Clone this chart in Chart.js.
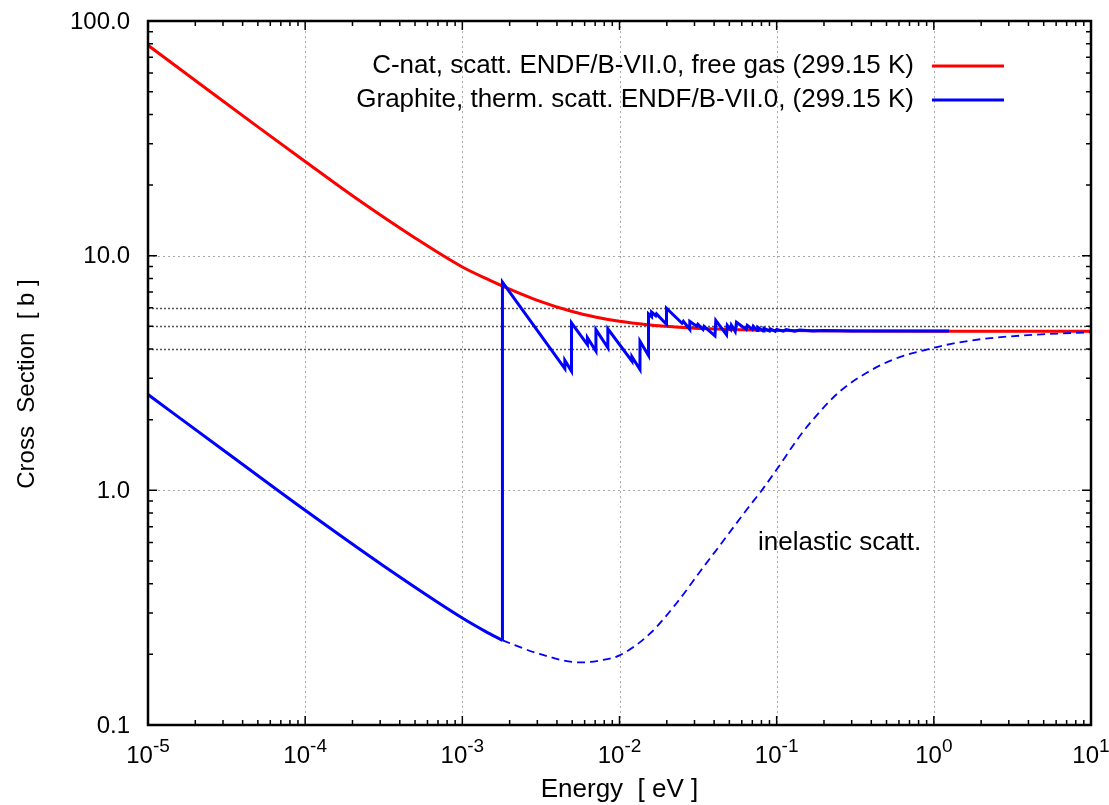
<!DOCTYPE html>
<html>
<head>
<meta charset="utf-8">
<script src="https://cdn.jsdelivr.net/npm/chart.js@4/dist/chart.umd.min.js"></script>
<style>
  html, body { margin: 0; padding: 0; background: #fff; }
  #wrap { width: 1109px; height: 805px; }
</style>
</head>
<body>
<div id="wrap"><canvas id="myChart" width="1109" height="805"></canvas></div>
<script>
// C-nat free gas elastic scattering
const freeGasE  = [1e-5, 2e-5, 5e-5, 1e-4, 2e-4, 5e-4, 1e-3, 1.5e-3, 2e-3, 3e-3, 5e-3, 7e-3, 1e-2, 1.5e-2, 2e-2, 3e-2, 5e-2, 1e-1, 3e-1, 1, 10];
const freeGasXS = [78.8, 55.8, 35.4, 25.2, 18.0, 11.9, 8.95, 7.85, 7.2, 6.45, 5.78, 5.48, 5.25, 5.08, 5.0, 4.91, 4.85, 4.80, 4.77, 4.765, 4.765];

// Graphite total below the first Bragg edge (inelastic only)
const graphiteLowE  = [1e-5, 3.16e-5, 1e-4, 3.16e-4, 1e-3, 1.4e-3, 1.8e-3];
const graphiteLowXS = [2.56, 1.45, 0.822, 0.476, 0.2856, 0.2506, 0.2293];

// Graphite total from the first Bragg edge up
const graphiteE  = [1.8e-3, 1.8e-3, 4.49e-3, 4.49e-3, 4.95e-3, 4.95e-3, 6.25e-3, 6.25e-3, 7.08e-3, 7.08e-3,
  8.43e-3, 8.43e-3, 1.2e-2, 1.2e-2, 1.35e-2, 1.35e-2, 1.53e-2, 1.53e-2,
  1.6e-2, 1.6e-2, 1.7e-2, 1.72e-2, 1.99e-2, 1.99e-2,
  2.5e-2, 2.55e-2, 2.8e-2, 2.8e-2, 3.1e-2, 3.15e-2, 3.4e-2, 3.45e-2, 4.05e-2, 4.1e-2,
  4.8e-2, 4.85e-2, 5.1e-2, 5.15e-2, 5.45e-2, 5.55e-2, 6.4e-2, 6.5e-2, 7.0e-2, 7.1e-2,
  7.5e-2, 7.6e-2, 8.2e-2, 8.3e-2, 9.0e-2, 9.1e-2, 9.8e-2, 0.1, 0.11, 0.115, 0.13, 0.14,
  0.17, 0.2, 0.3, 0.5, 1.25];
const graphiteXS = [0.2293, 7.71, 3.30, 3.58, 3.22, 5.17, 4.18, 4.47, 3.92, 4.84,
  4.05, 4.88, 3.55, 3.71, 3.27, 4.32, 3.75, 5.65,
  5.50, 5.75, 5.55, 5.65, 5.10, 5.97,
  5.15, 5.25, 4.85, 5.25, 5.0, 5.1, 4.85, 5.0, 4.55, 5.3,
  4.6, 5.05, 4.85, 5.05, 4.75, 5.2, 4.85, 5.05, 4.85, 5.0,
  4.8, 4.95, 4.78, 4.9, 4.78, 4.88, 4.76, 4.85, 4.77, 4.84, 4.77, 4.82,
  4.78, 4.8, 4.78, 4.77, 4.77];

// Graphite inelastic part
const inelasticE  = [1.8e-3, 3.1e-3, 5.6e-3, 7.5e-3, 1e-2, 1.56e-2, 2.31e-2, 3.25e-2, 4.81e-2, 6.44e-2, 8.04e-2, 0.1, 0.14, 0.189, 0.253, 0.374, 0.552, 1.0, 1.27, 2.07, 4.3, 10];
const inelasticXS = [0.2293, 0.2008, 0.1847, 0.1884, 0.198, 0.245, 0.331, 0.45, 0.637, 0.827, 1.0, 1.226, 1.70, 2.17, 2.644, 3.17, 3.61, 4.05, 4.2, 4.42, 4.6, 4.72];

const xTicks = [1e-5, 1e-4, 1e-3, 1e-2, 1e-1, 1, 10];
const xExp = ['-5', '-4', '-3', '-2', '-1', '0', '1'];
const yTicks = [0.1, 1, 10, 100];
const yTickLabels = ['0.1', '1.0', '10.0', '100.0'];
const yRefLines = [4, 5, 6];

const legendLabels = ['C-nat, scatt. ENDF/B-VII.0, free gas (299.15 K)', 'Graphite, therm. scatt. ENDF/B-VII.0, (299.15 K)'];

function toPoints(xs, ys) {
  return xs.map((x, i) => ({x: x, y: ys[i]}));
}

const FONT = '"Liberation Sans", Arial, Helvetica, sans-serif';

const gnuplotFrame = {
  id: 'gnuplotFrame',
  beforeDatasetsDraw(chart) {
    const ctx = chart.ctx, a = chart.chartArea;
    const xs = chart.scales.x, ys = chart.scales.y;
    ctx.save();
    ctx.lineWidth = 1;
    ctx.strokeStyle = '#a8a8a8';
    ctx.setLineDash([2, 3]);
    xTicks.slice(1, -1).forEach(v => {
      const px = Math.round(xs.getPixelForValue(v)) + 0.5;
      ctx.beginPath(); ctx.moveTo(px, a.top); ctx.lineTo(px, a.bottom); ctx.stroke();
    });
    yTicks.slice(1, -1).forEach(v => {
      const py = Math.round(ys.getPixelForValue(v)) + 0.5;
      ctx.beginPath(); ctx.moveTo(a.left, py); ctx.lineTo(a.right, py); ctx.stroke();
    });
    ctx.strokeStyle = '#555';
    ctx.lineWidth = 1.5;
    ctx.setLineDash([2, 2]);
    yRefLines.forEach(v => {
      const py = Math.round(ys.getPixelForValue(v)) + 0.5;
      ctx.beginPath(); ctx.moveTo(a.left, py); ctx.lineTo(a.right, py); ctx.stroke();
    });
    ctx.restore();
  },
  afterDraw(chart) {
    const ctx = chart.ctx, a = chart.chartArea;
    const xs = chart.scales.x, ys = chart.scales.y;
    ctx.save();
    ctx.strokeStyle = '#000';
    ctx.fillStyle = '#000';
    ctx.setLineDash([]);
    ctx.lineWidth = 1.5;

    // ticks on all four sides, pointing in
    for (let d = -5; d <= 1; d++) {
      for (let m = 1; m <= 9; m++) {
        const v = m * Math.pow(10, d);
        if (v > 10.0001) break;
        const px = xs.getPixelForValue(v);
        const len = m === 1 ? 9 : 5;
        ctx.beginPath();
        ctx.moveTo(px, a.bottom); ctx.lineTo(px, a.bottom - len);
        ctx.moveTo(px, a.top); ctx.lineTo(px, a.top + len);
        ctx.stroke();
      }
    }
    for (let d = -1; d <= 2; d++) {
      for (let m = 1; m <= 9; m++) {
        const v = m * Math.pow(10, d);
        if (v > 100.001) break;
        const py = ys.getPixelForValue(v);
        const len = m === 1 ? 9 : 5;
        ctx.beginPath();
        ctx.moveTo(a.left, py); ctx.lineTo(a.left + len, py);
        ctx.moveTo(a.right, py); ctx.lineTo(a.right - len, py);
        ctx.stroke();
      }
    }

    // border
    ctx.lineWidth = 2.5;
    ctx.strokeRect(a.left, a.top, a.right - a.left, a.bottom - a.top);

    // y tick labels
    ctx.font = '24px ' + FONT;
    ctx.textAlign = 'right';
    ctx.textBaseline = 'middle';
    yTicks.forEach((v, i) => {
      ctx.fillText(yTickLabels[i], a.left - 18, ys.getPixelForValue(v) + 1);
    });

    // x tick labels: 10 with raised exponent
    ctx.textBaseline = 'alphabetic';
    ctx.textAlign = 'left';
    xTicks.forEach((v, i) => {
      const px = xs.getPixelForValue(v);
      ctx.font = '24px ' + FONT;
      const wBase = ctx.measureText('10').width;
      ctx.font = '19px ' + FONT;
      const wExp = ctx.measureText(xExp[i]).width;
      const x0 = px - (wBase + wExp) / 2;
      ctx.font = '24px ' + FONT;
      ctx.fillText('10', x0, a.bottom + 38);
      ctx.font = '19px ' + FONT;
      ctx.fillText(xExp[i], x0 + wBase, a.bottom + 27);
    });

    // axis titles
    ctx.font = '26px ' + FONT;
    ctx.textAlign = 'center';
    ctx.textBaseline = 'middle';
    ctx.fillText('Energy  [ eV ]', (a.left + a.right) / 2, 790);
    ctx.save();
    ctx.translate(27, 384);
    ctx.rotate(-Math.PI / 2);
    ctx.font = '24px ' + FONT;
    ctx.fillText('Cross  Section  [ b ]', 0, 0);
    ctx.restore();

    // legend
    const colors = ['#ff0000', '#0000ff'];
    const rows = [66, 100];
    ctx.font = '26px ' + FONT;
    ctx.textAlign = 'right';
    legendLabels.forEach((t, i) => {
      ctx.fillStyle = '#000';
      ctx.fillText(t, 914, rows[i]);
      ctx.strokeStyle = colors[i];
      ctx.lineWidth = 3;
      ctx.beginPath(); ctx.moveTo(932, rows[i]); ctx.lineTo(1004, rows[i]); ctx.stroke();
    });

    // annotation
    ctx.fillStyle = '#000';
    ctx.textAlign = 'left';
    ctx.fillText('inelastic scatt.', 758, 543);
    ctx.restore();
  }
};

const lineBase = { showLine: true, pointRadius: 0, borderWidth: 3 };

const config = {
  type: 'scatter',
  data: {
    datasets: [
      Object.assign({}, lineBase, {
        label: legendLabels[1],
        data: toPoints(graphiteE, graphiteXS),
        borderColor: '#0000ff',
        tension: 0,
        order: 1
      }),
      Object.assign({}, lineBase, {
        label: legendLabels[1] + ' (below first Bragg edge)',
        data: toPoints(graphiteLowE, graphiteLowXS),
        borderColor: '#0000ff',
        cubicInterpolationMode: 'monotone',
        order: 1
      }),
      Object.assign({}, lineBase, {
        label: 'inelastic scatt.',
        data: toPoints(inelasticE, inelasticXS),
        borderColor: '#0000ff',
        borderWidth: 1.8,
        borderDash: [8, 5],
        cubicInterpolationMode: 'monotone',
        order: 2
      }),
      Object.assign({}, lineBase, {
        label: legendLabels[0],
        data: toPoints(freeGasE, freeGasXS),
        borderColor: '#ff0000',
        cubicInterpolationMode: 'monotone',
        order: 3
      })
    ]
  },
  options: {
    responsive: false,
    animation: false,
    layout: { padding: { left: 148, right: 18, top: 21, bottom: 80 } },
    plugins: { legend: { display: false }, tooltip: { enabled: false } },
    scales: {
      x: { type: 'logarithmic', min: 1e-5, max: 10, display: false },
      y: { type: 'logarithmic', min: 0.1, max: 100, display: false }
    }
  },
  plugins: [gnuplotFrame]
};

const myChart = new Chart(document.getElementById('myChart'), config);
</script>
</body>
</html>
